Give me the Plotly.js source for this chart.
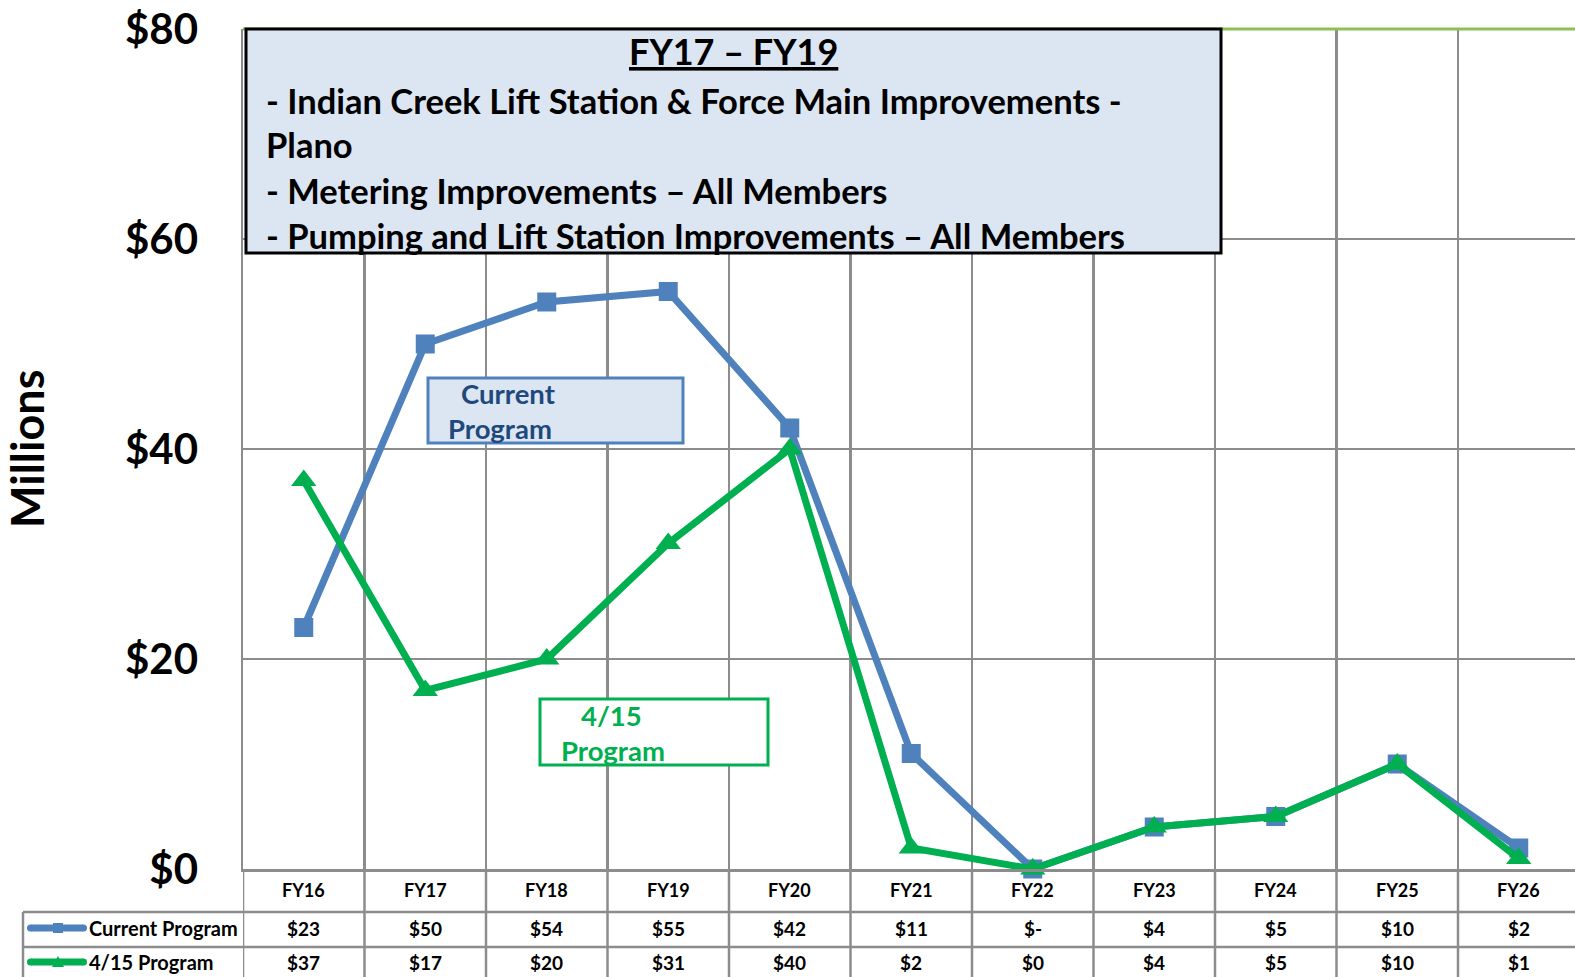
<!DOCTYPE html>
<html>
<head>
<meta charset="utf-8">
<script src="https://cdn.plot.ly/plotly-3.0.1.min.js"></script>
<style>html,body{margin:0;padding:0;background:#fff;}#chart{width:1575px;height:977px;}</style>
</head>
<body>
<div id="chart"></div>
<script>
const categories = ['FY16','FY17','FY18','FY19','FY20','FY21','FY22','FY23','FY24','FY25','FY26'];
const currentProgram = [23,50,54,55,42,11,0,4,5,10,2];
const program415 = [37,17,20,31,40,2,0,4,5,10,1];
const currentLabels = ['$23','$50','$54','$55','$42','$11','$-','$4','$5','$10','$2'];
const program415Labels = ['$37','$17','$20','$31','$40','$2','$0','$4','$5','$10','$1'];
const yTicks = [0,20,40,60,80];
const boxTitle = 'FY17 \u2013 FY19';
const boxLines = [
  '- Indian Creek Lift Station & Force Main Improvements -',
  'Plano',
  '- Metering Improvements \u2013 All Members',
  '- Pumping and Lift Station Improvements \u2013 All Members'
];
const seriesNames = ['Current Program','4/15 Program'];

const W = 1575, H = 977;
const L = 243, T = 29, B = 108;
const plotW = W - L, plotH = H - T - B;
const xp = p => (p - L) / plotW;
const yp = p => (H - B - p) / plotH;

const BLUE = '#4f81bd', GREEN = '#00b050', GRID = '#8c8c8c';
const FONT = 'Lato, "Open Sans", sans-serif';
const catW = 121.5;

const traces = [
  {x: categories, y: currentProgram, name: seriesNames[0], type: 'scatter', mode: 'lines+markers',
   line: {color: BLUE, width: 7}, marker: {symbol: 'square', size: 19, color: BLUE}, cliponaxis: false},
  {x: categories, y: program415, name: seriesNames[1], type: 'scatter', mode: 'lines+markers',
   line: {color: GREEN, width: 7}, marker: {symbol: 'triangle-up', size: 22, color: GREEN}, cliponaxis: false}
];

const shapes = [];
const annotations = [];

// top green border
shapes.push({type:'line', xref:'paper', yref:'paper', x0:0, x1:1, y0:1, y1:1, line:{color:'#8cc152', width:3}});

// table lines
const yRow2 = yp(912), yRow3 = yp(947), yBot = yp(977);
shapes.push({type:'line', xref:'paper', yref:'paper', x0:xp(23), x1:1, y0:yRow2, y1:yRow2, line:{color:GRID, width:2.5}});
shapes.push({type:'line', xref:'paper', yref:'paper', x0:xp(23), x1:1, y0:yRow3, y1:yRow3, line:{color:GRID, width:2.5}});
shapes.push({type:'line', xref:'paper', yref:'paper', x0:xp(23), x1:xp(23), y0:yRow2, y1:yBot, line:{color:GRID, width:2.5}});
for (let i = 0; i < categories.length; i++) {
  shapes.push({type:'line', xref:'x', yref:'paper', x0:i-0.5, x1:i-0.5, y0:0, y1:yBot, line:{color:GRID, width:2.5}});
}

// table texts
categories.forEach((c, i) => {
  annotations.push({xref:'x', yref:'paper', x:c, y:yp(890), text:c, showarrow:false, xanchor:'center', yanchor:'middle',
    font:{family:FONT, size:18, color:'#000', weight:700}});
  annotations.push({xref:'x', yref:'paper', x:c, y:yp(928), text:currentLabels[i], showarrow:false, xanchor:'center', yanchor:'middle',
    font:{family:FONT, size:19, color:'#000', weight:700}});
  annotations.push({xref:'x', yref:'paper', x:c, y:yp(962), text:program415Labels[i], showarrow:false, xanchor:'center', yanchor:'middle',
    font:{family:FONT, size:19, color:'#000', weight:700}});
});

// legend swatches in table
function swatch(yc, color, kind) {
  shapes.push({type:'line', xref:'paper', yref:'paper', x0:xp(31), x1:xp(83), y0:yp(yc), y1:yp(yc), line:{color:color, width:7}});
  shapes.push({type:'circle', xref:'paper', yref:'paper', x0:xp(27), x1:xp(34), y0:yp(yc-3.5), y1:yp(yc+3.5), fillcolor:color, line:{width:0}});
  shapes.push({type:'circle', xref:'paper', yref:'paper', x0:xp(80), x1:xp(87), y0:yp(yc-3.5), y1:yp(yc+3.5), fillcolor:color, line:{width:0}});
  if (kind === 'square') {
    shapes.push({type:'rect', xref:'paper', yref:'paper', x0:xp(53), x1:xp(63), y0:yp(yc-5), y1:yp(yc+5), fillcolor:color, line:{width:0}});
  } else {
    const path = `M ${xp(52)} ${yp(yc+5)} L ${xp(64)} ${yp(yc+5)} L ${xp(58)} ${yp(yc-6)} Z`;
    shapes.push({type:'path', xref:'paper', yref:'paper', path:path, fillcolor:color, line:{width:0}});
  }
}
swatch(928, BLUE, 'square');
swatch(962, GREEN, 'triangle');
annotations.push({xref:'paper', yref:'paper', x:xp(87), y:yp(928), text:seriesNames[0], showarrow:false, xanchor:'left', yanchor:'middle',
  font:{family:FONT, size:20, color:'#000', weight:700}});
annotations.push({xref:'paper', yref:'paper', x:xp(87), y:yp(962), text:seriesNames[1], showarrow:false, xanchor:'left', yanchor:'middle',
  font:{family:FONT, size:20, color:'#000', weight:700}});

// main text box
shapes.push({type:'rect', xref:'paper', yref:'paper', x0:xp(246), x1:xp(1221), y0:yp(29), y1:yp(253), fillcolor:'#dce6f2', line:{color:'#000', width:3}});
annotations.push({xref:'paper', yref:'paper', x:xp(733), y:yp(51), text:'<u>' + boxTitle + '</u>', showarrow:false, xanchor:'center', yanchor:'middle',
  font:{family:FONT, size:36, color:'#000', weight:700}});
const lineY = [100, 145, 190, 235];
boxLines.forEach((t, i) => {
  annotations.push({xref:'paper', yref:'paper', x:xp(264), y:yp(lineY[i]), text:t, showarrow:false, xanchor:'left', yanchor:'middle',
    font:{family:FONT, size:34.5, color:'#000', weight:700}});
});

// "Current Program" callout
shapes.push({type:'rect', xref:'paper', yref:'paper', x0:xp(428), x1:xp(683), y0:yp(378), y1:yp(443), fillcolor:'#dce6f2', line:{color:BLUE, width:3}});
annotations.push({xref:'paper', yref:'paper', x:xp(459), y:yp(393), text:'Current', showarrow:false, xanchor:'left', yanchor:'middle',
  font:{family:FONT, size:27.5, color:'#1f497d', weight:700}});
annotations.push({xref:'paper', yref:'paper', x:xp(446), y:yp(428), text:'Program', showarrow:false, xanchor:'left', yanchor:'middle',
  font:{family:FONT, size:27.5, color:'#1f497d', weight:700}});

// "4/15 Program" callout
shapes.push({type:'rect', xref:'paper', yref:'paper', x0:xp(540), x1:xp(768), y0:yp(699), y1:yp(765), fillcolor:'#ffffff', line:{color:GREEN, width:3}});
annotations.push({xref:'paper', yref:'paper', x:xp(579), y:yp(715), text:'4/15', showarrow:false, xanchor:'left', yanchor:'middle',
  font:{family:FONT, size:27.5, color:GREEN, weight:700}});
annotations.push({xref:'paper', yref:'paper', x:xp(559), y:yp(750), text:'Program', showarrow:false, xanchor:'left', yanchor:'middle',
  font:{family:FONT, size:27.5, color:GREEN, weight:700}});

// Millions (y-axis title)
annotations.push({xref:'paper', yref:'paper', x:xp(27), y:yp(449), text:'Millions', showarrow:false, textangle:-90, xanchor:'center', yanchor:'middle',
  font:{family:FONT, size:45, color:'#000', weight:700}});

const layout = {
  width: W, height: H,
  margin: {l: L, r: 0, t: T, b: B, pad: 0},
  paper_bgcolor: '#ffffff', plot_bgcolor: '#ffffff',
  showlegend: false,
  font: {family: FONT},
  xaxis: {
    type: 'category', categoryorder: 'array', categoryarray: categories,
    range: [-0.5, -0.5 + plotW / catW],
    showgrid: true, gridcolor: GRID, gridwidth: 2.5, tickson: 'boundaries',
    showticklabels: false, ticks: '',
    showline: true, linecolor: GRID, linewidth: 2.5,
    zeroline: false, fixedrange: true
  },
  yaxis: {
    range: [0, 80], tickvals: yTicks, ticktext: yTicks.map(v => '$' + v),
    showgrid: true, gridcolor: GRID, gridwidth: 2.5,
    ticks: '', ticklabelstandoff: 34,
    tickfont: {family: FONT, size: 42, color: '#000', weight: 700},
    showline: true, linecolor: GRID, linewidth: 2.5,
    zeroline: false, fixedrange: true
  },
  shapes: shapes,
  annotations: annotations
};

Plotly.newPlot('chart', traces, layout, {displayModeBar: false, staticPlot: true});
</script>
</body>
</html>
